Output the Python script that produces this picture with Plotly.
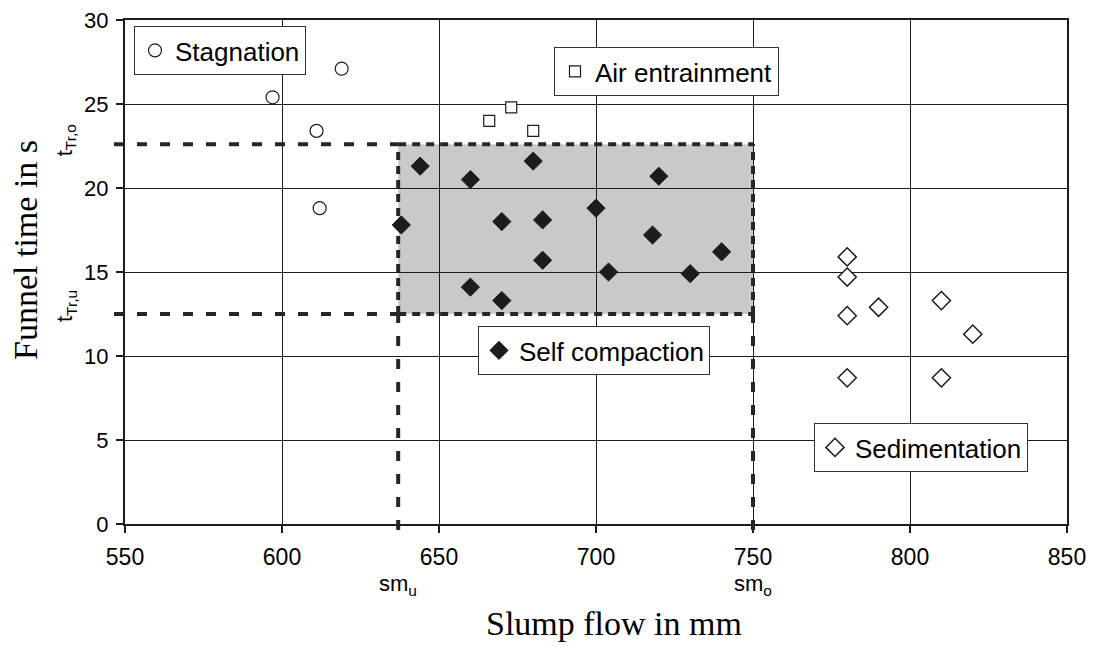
import plotly.graph_objects as go

# ---- data ----
stag_x = [597, 619, 611, 612]
stag_y = [25.4, 27.1, 23.4, 18.8]

air_x = [666, 673, 680]
air_y = [24.0, 24.8, 23.4]

self_x = [644, 660, 680, 720, 638, 670, 683, 700, 718, 740, 683, 704, 730, 660, 670]
self_y = [21.3, 20.5, 21.6, 20.7, 17.8, 18.0, 18.1, 18.8, 17.2, 16.2, 15.7, 15.0, 14.9, 14.1, 13.3]

sed_x = [780, 780, 780, 790, 810, 820, 780, 810]
sed_y = [15.9, 14.7, 12.4, 12.9, 13.3, 11.3, 8.7, 8.7]

x_ticks = [550, 600, 650, 700, 750, 800, 850]
y_ticks = [0, 5, 10, 15, 20, 25, 30]

SM_U, SM_O = 637, 750      # slump flow limits
T_U, T_O = 12.5, 22.6      # funnel time limits

X_MIN, X_MAX = 550, 850
Y_MIN, Y_MAX = 0, 30

# ---- page geometry (browser body has an 8px default margin) ----
PAGE_W, PAGE_H = 1095, 648
BODY = 8
PLOT_L, PLOT_R, PLOT_T, PLOT_B = 125, 1067, 20, 524   # plot area in page pixels
W, H = PAGE_W - BODY, PAGE_H - BODY
ML = PLOT_L - BODY
MT = PLOT_T - BODY
MR = PAGE_W - PLOT_R
MB = PAGE_H - PLOT_B
PW = PLOT_R - PLOT_L
PH = PLOT_B - PLOT_T


def px_to_paper_x(p):
    return (p - PLOT_L) / PW


def px_to_paper_y(p):
    return (PLOT_B - p) / PH


def dx(v):
    return (v - X_MIN) / (X_MAX - X_MIN)


def dy(v):
    return (v - Y_MIN) / (Y_MAX - Y_MIN)


SANS = "Liberation Sans, Arial, sans-serif"
SERIF = "Liberation Serif, Times New Roman, serif"
INK = "#1c1c1c"

fig = go.Figure()

fig.add_trace(go.Scatter(
    x=stag_x, y=stag_y, mode="markers", name="Stagnation", legend="legend",
    marker=dict(symbol="circle", size=13, color="white", line=dict(color=INK, width=1.2))))
fig.add_trace(go.Scatter(
    x=air_x, y=air_y, mode="markers", name="Air entrainment", legend="legend2",
    marker=dict(symbol="square", size=11, color="white", line=dict(color=INK, width=1.2))))
fig.add_trace(go.Scatter(
    x=self_x, y=self_y, mode="markers", name="Self compaction", legend="legend3",
    marker=dict(symbol="diamond", size=14, color=INK, line=dict(color=INK, width=1))))
fig.add_trace(go.Scatter(
    x=sed_x, y=sed_y, mode="markers", name="Sedimentation", legend="legend4",
    marker=dict(symbol="diamond", size=14, color="white", line=dict(color=INK, width=1.5))))

shapes = []
# shaded self-compaction region
shapes.append(dict(type="rect", xref="x", yref="y", x0=SM_U, x1=SM_O, y0=T_U, y1=T_O,
                   fillcolor="#c9c9c9", line=dict(width=0), layer="below"))
box_line = dict(color="#262626", width=4, dash="8px,6px")
for (x0, y0, x1, y1) in [(SM_U, T_O, SM_O, T_O), (SM_U, T_U, SM_O, T_U),
                         (SM_U, T_U, SM_U, T_O), (SM_O, T_U, SM_O, T_O)]:
    shapes.append(dict(type="line", xref="x", yref="y", x0=x0, y0=y0, x1=x1, y1=y1,
                       line=box_line, layer="between"))
ext_line = dict(color="#262626", width=4, dash="10px,13px")
left_start = px_to_paper_x(114)
bottom_end = -6 / PH
for t in (T_O, T_U):
    shapes.append(dict(type="line", xref="paper", yref="paper",
                       x0=left_start, x1=dx(SM_U), y0=dy(t), y1=dy(t),
                       line=ext_line, layer="above"))
for s in (SM_U, SM_O):
    shapes.append(dict(type="line", xref="paper", yref="paper",
                       x0=dx(s), x1=dx(s), y0=bottom_end, y1=dy(T_U),
                       line=ext_line, layer="above"))

annotations = [
    dict(text="Funnel time in s", xref="paper", yref="paper",
         x=px_to_paper_x(25), y=px_to_paper_y(250), textangle=-90,
         showarrow=False, font=dict(family=SERIF, size=34, color="black"),
         xanchor="center", yanchor="middle"),
    dict(text="Slump flow in mm", xref="paper", yref="paper",
         x=px_to_paper_x(614), y=px_to_paper_y(623),
         showarrow=False, font=dict(family=SERIF, size=34, color="black"),
         xanchor="center", yanchor="middle"),
    dict(text="t<sub>Tr,o</sub>", xref="paper", yref="y", x=px_to_paper_x(66), y=T_O,
         yshift=4, textangle=-90, showarrow=False,
         font=dict(family=SANS, size=22, color="black"), xanchor="center", yanchor="middle"),
    dict(text="t<sub>Tr,u</sub>", xref="paper", yref="y", x=px_to_paper_x(66), y=T_U,
         yshift=8, textangle=-90, showarrow=False,
         font=dict(family=SANS, size=22, color="black"), xanchor="center", yanchor="middle"),
    dict(text="sm<sub>u</sub>", xref="x", yref="paper", x=SM_U, y=px_to_paper_y(585),
         showarrow=False, font=dict(family=SANS, size=22, color="black"),
         xanchor="center", yanchor="middle"),
    dict(text="sm<sub>o</sub>", xref="x", yref="paper", x=SM_O, y=px_to_paper_y(585),
         showarrow=False, font=dict(family=SANS, size=22, color="black"),
         xanchor="center", yanchor="middle"),
]


def legend_box(left_px, top_px):
    return dict(x=px_to_paper_x(left_px), y=px_to_paper_y(top_px), xanchor="left", yanchor="top",
                bgcolor="white", bordercolor="#333", borderwidth=1,
                font=dict(family=SANS, size=26, color="black"),
                itemsizing="trace")


fig.update_layout(
    width=W, height=H,
    margin=dict(l=ML, r=MR, t=MT, b=MB, autoexpand=False),
    paper_bgcolor="white", plot_bgcolor="white",
    showlegend=True,
    legend=legend_box(134, 26),
    legend2=legend_box(554, 47),
    legend3=legend_box(478, 326),
    legend4=legend_box(814, 423),
    shapes=shapes,
    annotations=annotations,
    xaxis=dict(range=[X_MIN, X_MAX], tickvals=x_ticks, ticktext=[str(v) for v in x_ticks],
               showgrid=True, gridcolor=INK, gridwidth=1.3,
               showline=True, linecolor=INK, linewidth=2, mirror=True,
               ticks="outside", ticklen=7, tickcolor=INK, tickwidth=1.5,
               ticklabelstandoff=4, automargin=False, ticklabeloverflow="allow",
               tickfont=dict(family=SANS, size=23, color="black"), zeroline=False),
    yaxis=dict(range=[Y_MIN, Y_MAX], tickvals=y_ticks, ticktext=[str(v) for v in y_ticks],
               showgrid=True, gridcolor=INK, gridwidth=1.3,
               showline=True, linecolor=INK, linewidth=2, mirror=True,
               ticks="outside", ticklen=7, tickcolor=INK, tickwidth=1.5,
               ticklabelstandoff=3, automargin=False, ticklabeloverflow="allow",
               tickfont=dict(family=SANS, size=22, color="black"), zeroline=False),
)

fig.write_html("out.html")
